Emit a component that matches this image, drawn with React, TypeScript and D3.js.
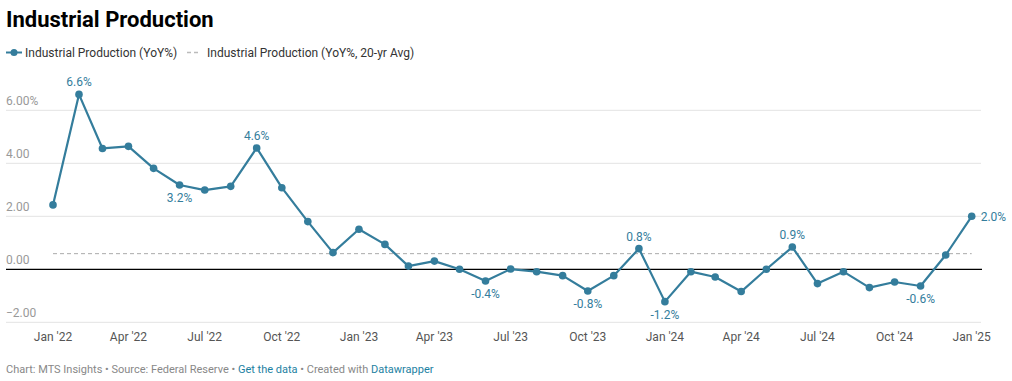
import React from "react";
import * as d3 from "d3";

const months: string[] = [
  "2022-01","2022-02","2022-03","2022-04","2022-05","2022-06","2022-07","2022-08","2022-09","2022-10","2022-11","2022-12",
  "2023-01","2023-02","2023-03","2023-04","2023-05","2023-06","2023-07","2023-08","2023-09","2023-10","2023-11","2023-12",
  "2024-01","2024-02","2024-03","2024-04","2024-05","2024-06","2024-07","2024-08","2024-09","2024-10","2024-11","2024-12",
  "2025-01",
];
const ipYoY: number[] = [
  2.43, 6.6, 4.56, 4.64, 3.81, 3.18, 2.99, 3.13, 4.58, 3.08, 1.8, 0.63,
  1.51, 0.94, 0.12, 0.31, 0.0, -0.44, 0.01, -0.09, -0.24, -0.82, -0.24, 0.78,
  -1.22, -0.09, -0.29, -0.84, 0.0, 0.84, -0.54, -0.09, -0.69, -0.48, -0.63, 0.54,
  2.0,
];
const avg20yr = 0.59;
const yTicks: number[] = [-2, 0, 2, 4, 6];
const xTickLabels: string[] = ["Jan '22","Apr '22","Jul '22","Oct '22","Jan '23","Apr '23","Jul '23","Oct '23","Jan '24","Apr '24","Jul '24","Oct '24","Jan '25"];
const xTickMonths: string[] = ["2022-01","2022-04","2022-07","2022-10","2023-01","2023-04","2023-07","2023-10","2024-01","2024-04","2024-07","2024-10","2025-01"];
// labelled points: month, text, position
const labelMonths: string[] = ["2022-02","2022-06","2022-09","2023-06","2023-10","2023-12","2024-01","2024-06","2024-11","2025-01"];
const labelTexts: string[] = ["6.6%","3.2%","4.6%","-0.4%","-0.8%","0.8%","-1.2%","0.9%","-0.6%","2.0%"];
const labelPos: string[] = ["above","below","above","below","below","above","below","above","below","right"];

const COLOR = "#347d9c";
const FONT = "Roboto, 'Noto Sans', sans-serif";

export default function App() {
  const W = 1012, H = 381;
  const parse = d3.timeParse("%Y-%m");
  const dates = months.map((m) => parse(m) as Date);
  const x = d3.scaleTime().domain([dates[0], dates[dates.length - 1]]).range([53, 971.7]);
  const y = d3.scaleLinear().domain([-2, 6]).range([322.3, 110.3]);
  const data = dates.map((d, i) => ({ d, v: ipYoY[i] }));
  const line = d3.line<{ d: Date; v: number }>().x((p) => x(p.d)).y((p) => y(p.v));

  return (
    <svg width={W} height={H} style={{ position: "absolute", left: 0, top: 0, fontFamily: FONT }}>
      <rect width={W} height={H} fill="#fff" />
      <text x={6} y={27} fontSize={22} fontWeight={700} fill="#000">Industrial Production</text>
      {/* legend */}
      <line x1={6} x2={22} y1={52.5} y2={52.5} stroke={COLOR} strokeWidth={2} />
      <circle cx={14} cy={52.5} r={3.5} fill={COLOR} />
      <text x={25} y={56.5} fontSize={12} fill="#333">Industrial Production (YoY%)</text>
      <line x1={187} x2={200} y1={52.5} y2={52.5} stroke="#bbb" strokeWidth={1.5} strokeDasharray="4,3" />
      <text x={207} y={56.5} fontSize={12} fill="#333">Industrial Production (YoY%, 20-yr Avg)</text>

      {/* grid */}
      {yTicks.map((t) => (
        <g key={t}>
          {t !== 0 && <line x1={6} x2={981} y1={y(t)} y2={y(t)} stroke="#e3e3e3" strokeWidth={1} />}
          <text x={6} y={y(t) - 5} fontSize={12} fill="#999">
            {t === 6 ? "6.00%" : t < 0 ? "\u2212" + Math.abs(t).toFixed(2) : t.toFixed(2)}
          </text>
        </g>
      ))}
      <line x1={x(dates[0])} x2={x(dates[dates.length - 1])} y1={y(avg20yr)} y2={y(avg20yr)} stroke="#aaa" strokeWidth={1} strokeDasharray="4,3" />
      <line x1={6} x2={982} y1={y(0)} y2={y(0)} stroke="#000" strokeWidth={1.2} />

      {/* x ticks */}
      {xTickMonths.map((m, i) => (
        <text key={m} x={x(parse(m) as Date)} y={341} fontSize={12} fill="#555" textAnchor="middle">{xTickLabels[i]}</text>
      ))}

      <path d={line(data) || ""} fill="none" stroke={COLOR} strokeWidth={2.2} strokeLinejoin="round" />
      {data.map((p, i) => (
        <circle key={i} cx={x(p.d)} cy={y(p.v)} r={3.8} fill={COLOR} />
      ))}
      {labelMonths.map((m, i) => {
        const idx = months.indexOf(m);
        const px = x(dates[idx]);
        const py = y(ipYoY[idx]);
        const pos = labelPos[i];
        if (pos === "right") {
          return <text key={m} x={px + 9} y={py + 4.5} fontSize={12} fill={COLOR}>{labelTexts[i]}</text>;
        }
        return (
          <text key={m} x={px} y={pos === "above" ? py - 8 : py + 17} fontSize={12} fill={COLOR} textAnchor="middle">{labelTexts[i]}</text>
        );
      })}

      {/* footer */}
      <text x={6} y={373} fontSize={11} fill="#888">
        Chart: MTS Insights • Source: Federal Reserve • <tspan fill="#1d81a2">Get the data</tspan> • Created with <tspan fill="#1d81a2">Datawrapper</tspan>
      </text>
    </svg>
  );
}
